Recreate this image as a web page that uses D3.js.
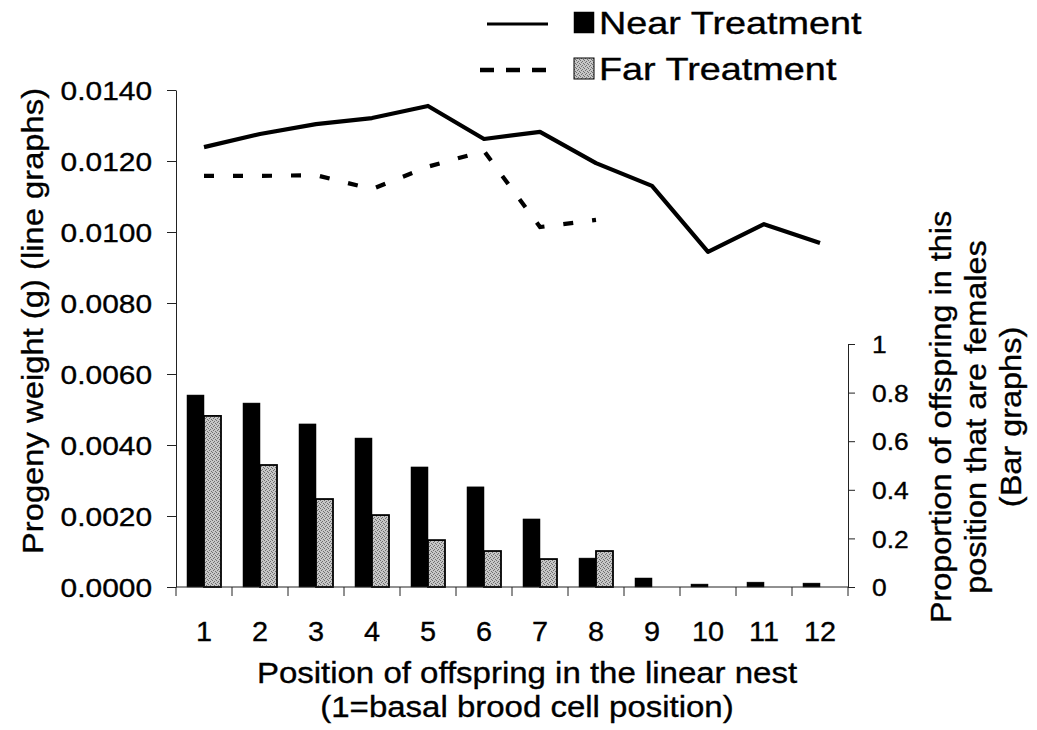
<!DOCTYPE html>
<html>
<head>
<meta charset="utf-8">
<script src="https://cdn.jsdelivr.net/npm/d3@7"></script>
<style>
  html, body { margin: 0; padding: 0; background: #fff; }
  svg { display: block; }
  text { font-family: "Liberation Sans", Arial, Helvetica, sans-serif; fill: #000; stroke: #000; stroke-width: 0.35px; }
</style>
</head>
<body>
<svg id="chart" width="1037" height="730"></svg>
<script>
// Nest positions (1 = basal brood cell)
const positions = ["1", "2", "3", "4", "5", "6", "7", "8", "9", "10", "11", "12"];

// Mean progeny weight (g) per position — line graphs
const nearWeight = [0.01239, 0.01276, 0.01304, 0.01321, 0.01355, 0.01262, 0.01282, 0.01194, 0.01130, 0.00944, 0.01022, 0.00969];
const farWeight  = [0.01158, 0.01158, 0.01160, 0.01121, 0.01184, 0.01228, 0.01014, 0.01034, null, null, null, null];

// Proportion of offspring that are females per position — bar graphs
const nearFemale = [0.79, 0.757, 0.671, 0.613, 0.494, 0.412, 0.28, 0.119, 0.037, 0.012, 0.02, 0.016];
const farFemale  = [0.704, 0.502, 0.362, 0.296, 0.193, 0.148, 0.115, 0.148, null, null, null, null];

// Axis ticks
const weightTicks = [0, 0.002, 0.004, 0.006, 0.008, 0.010, 0.012, 0.014];
const femaleTicks = [0, 0.2, 0.4, 0.6, 0.8, 1];

const treatments = ["Near Treatment", "Far Treatment"];

const svg = d3.select("#chart");

// Stippled grey fill used for the far-treatment bars
const defs = svg.append("defs");
const pat = defs.append("pattern")
  .attr("id", "stipple").attr("patternUnits", "userSpaceOnUse")
  .attr("width", 4).attr("height", 4);
pat.append("rect").attr("width", 4).attr("height", 4).attr("fill", "#c6c6c6");
[[0, 0], [2, 1], [1, 2], [3, 3]].forEach(([px, py]) =>
  pat.append("rect").attr("x", px).attr("y", py).attr("width", 1).attr("height", 1).attr("fill", "#6e6e6e"));

// Text helper: the type used here is a wide sans, so glyphs are stretched along the reading direction
function label(parent, o) {
  return parent.append("text")
    .attr("transform", `translate(${o.x},${o.y}) rotate(${o.rotate || 0}) scale(${o.sx || 1},1)`)
    .attr("text-anchor", o.anchor || "start")
    .style("font-size", o.size + "px")
    .text(o.text);
}

// Scales
const x = d3.scaleBand().domain(positions).range([176, 848]).padding(0);
const yW = d3.scaleLinear().domain([0, 0.014]).range([587, 90]);
const yP = d3.scaleLinear().domain([0, 1]).range([587, 344]);
const inner = d3.scaleBand().domain(["near", "far"]).range([11, 45]).padding(0);

// Bars
const barsG = svg.append("g");
positions.forEach((p, i) => {
  const series = [["near", nearFemale[i]], ["far", farFemale[i]]];
  series.forEach(([k, v]) => {
    if (v == null) return;
    barsG.append("rect")
      .attr("x", x(p) + inner(k))
      .attr("y", yP(v))
      .attr("width", inner.bandwidth())
      .attr("height", yP(0) - yP(v))
      .attr("fill", k === "near" ? "#000" : "url(#stipple)")
      .attr("stroke", "#000")
      .attr("stroke-width", k === "near" ? 0.5 : 1.8);
  });
});

// Lines
const lineGen = d3.line()
  .defined(d => d != null)
  .x((d, i) => x(positions[i]) + x.bandwidth() / 2)
  .y(d => yW(d));

svg.append("path").datum(nearWeight)
  .attr("d", lineGen).attr("fill", "none")
  .attr("stroke", "#000").attr("stroke-width", 4.2).attr("stroke-linejoin", "round");

svg.append("path").datum(farWeight)
  .attr("d", lineGen).attr("fill", "none")
  .attr("stroke", "#000").attr("stroke-width", 4.2)
  .attr("stroke-dasharray", "10,19");

// Left axis (weight)
const leftAxis = svg.append("g").attr("transform", "translate(176,0)")
  .call(d3.axisLeft(yW).tickValues(weightTicks).tickFormat(d3.format(".4f")).tickSize(9).tickSizeOuter(0).tickPadding(0));
leftAxis.selectAll("path, line").attr("stroke", "#222").attr("stroke-width", 1);
leftAxis.selectAll("text")
  .attr("x", -24 / 1.15).attr("dy", "0.36em")
  .attr("transform", "scale(1.15,1)")
  .style("font-size", "26px").style("font-family", "'Liberation Sans', Arial, sans-serif").attr("fill", "#000");

// Right axis (proportion female)
const rightAxis = svg.append("g").attr("transform", "translate(848,0)")
  .call(d3.axisRight(yP).tickValues(femaleTicks).tickFormat(d3.format("~g")).tickSize(7).tickSizeOuter(0));
rightAxis.selectAll("path, line").attr("stroke", "#222").attr("stroke-width", 1);
rightAxis.selectAll("text")
  .attr("x", 24 / 1.1).attr("dy", "0.36em")
  .attr("transform", "scale(1.1,1)")
  .style("font-size", "24px").style("font-family", "'Liberation Sans', Arial, sans-serif").attr("fill", "#000");

// Bottom axis: ticks at band boundaries, labels centred in each band
const bottom = svg.append("g");
bottom.append("line")
  .attr("x1", x.range()[0]).attr("x2", x.range()[1])
  .attr("y1", 587).attr("y2", 587).attr("stroke", "#222").attr("stroke-width", 1);
positions.concat([null]).forEach(p => {
  const bx = p == null ? x.range()[1] : x(p);
  bottom.append("line").attr("x1", bx).attr("x2", bx).attr("y1", 587).attr("y2", 596)
    .attr("stroke", "#222").attr("stroke-width", 1);
});
positions.forEach(p => {
  label(bottom, { x: x(p) + x.bandwidth() / 2, y: 641, text: p, size: 28, sx: 1.03, anchor: "middle" });
});

// Axis titles
label(svg, { x: 527, y: 683, text: "Position of offspring in the linear nest", size: 30, sx: 1.1, anchor: "middle" });
label(svg, { x: 527, y: 717, text: "(1=basal brood cell position)", size: 30, sx: 1.1, anchor: "middle" });

label(svg, { x: 43, y: 321, text: "Progeny weight (g) (line graphs)", size: 29, sx: 1.13, anchor: "middle", rotate: -90 });

const rightTitle = ["Proportion of offspring in this", "position that are females", "(Bar graphs)"];
rightTitle.forEach((t, i) => {
  label(svg, { x: 951 + i * 35, y: 417, text: t, size: 29, sx: 1.12, anchor: "middle", rotate: -90 });
});

// Legend
const legend = svg.append("g");
const legendRows = [
  { name: treatments[0], y: 24, dash: null, fill: "#000" },
  { name: treatments[1], y: 70, dash: "14,12", fill: "url(#stipple)" }
];
legendRows.forEach(r => {
  legend.append("line")
    .attr("x1", r.dash ? 480 : 487).attr("x2", 548)
    .attr("y1", r.y).attr("y2", r.y)
    .attr("stroke", "#000").attr("stroke-width", r.dash ? 4.5 : 3)
    .attr("stroke-dasharray", r.dash);
  legend.append("rect")
    .attr("x", 574).attr("y", r.y - 12).attr("width", 20).attr("height", 21)
    .attr("fill", r.fill).attr("stroke", "#000").attr("stroke-width", r.dash ? 1 : 0.5);
  label(legend, { x: 599, y: r.y + 10, text: r.name, size: 31, sx: 1.22, anchor: "start" });
});
</script>
</body>
</html>
